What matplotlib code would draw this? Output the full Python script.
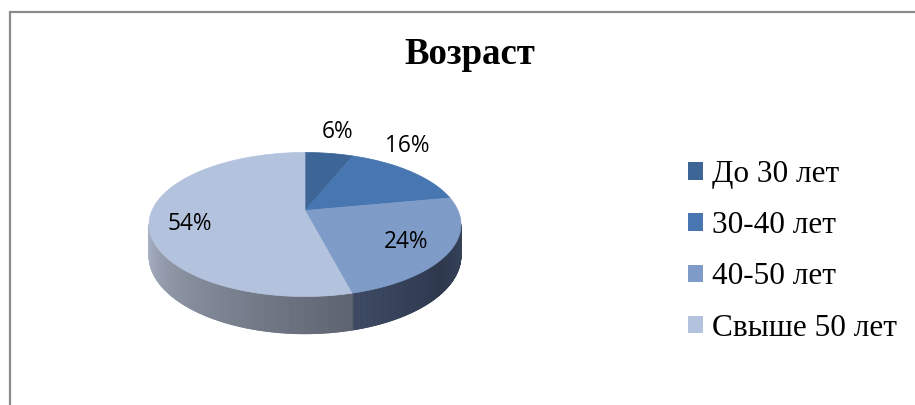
import numpy as np
import matplotlib
matplotlib.use('Agg')
import matplotlib.pyplot as plt
from matplotlib.patches import Polygon, Patch
from matplotlib.collections import PolyCollection

# ---------------- data ----------------
title = "Возраст"
categories = ["До 30 лет", "30-40 лет", "40-50 лет", "Свыше 50 лет"]
values = [6, 16, 24, 54]
pct_labels = ["6%", "16%", "24%", "54%"]

# ---------------- style ----------------
top_colors = ["#3D6596", "#4776B0", "#7F9CC9", "#B4C3DD"]
# side gradient stops (start of visible part -> end), per slice
side_grad = {
    2: [(0.0, (56, 68, 90)), (0.45, (46, 57, 78)), (1.0, (60, 73, 98))],
    3: [(0.0, (92, 98, 110)), (0.6, (135, 142, 158)), (1.0, (168, 177, 195))],
}
label_xy = [(338, 132.5), (407, 145.5), (406.5, 242.5), (190, 224.5)]

W, H = 915, 405
fig = plt.figure(figsize=(W / 100, H / 100), dpi=100)
ax = fig.add_axes([0, 0, 1, 1])
ax.set_xlim(0, W)
ax.set_ylim(H, 0)
ax.axis('off')

# chart frame (top and left edges visible)
ax.plot([10, 10, W + 5], [H + 5, 12, 12], color='#8A8A8A', lw=1.6,
        solid_joinstyle='miter', zorder=1)

# perspective pie geometry
CX, CY = 305, 210.5
A, B, P = 153.0, 69.3, 0.1944
HD = 30.0


def proj(theta, r=1.0):
    X = r * np.sin(theta)
    Z = r * np.cos(theta)
    d = 1 + P * Z
    return CX + A * X / d, CY - B * Z / d


def depth(theta):
    return HD / (1 + P * np.cos(theta))


vals = np.array(values, dtype=float)
bounds = np.concatenate([[0], np.cumsum(vals) / vals.sum()]) * 2 * np.pi


def grad_color(stops, t):
    for (t0, c0), (t1, c1) in zip(stops[:-1], stops[1:]):
        if t0 <= t <= t1:
            u = (t - t0) / (t1 - t0) if t1 > t0 else 0
            return tuple((c0[k] + u * (c1[k] - c0[k])) / 255 for k in range(3))
    return tuple(c / 255 for c in stops[-1][1])


# side faces (visible between silhouette points)
t_lo = np.arccos(-P)
t_hi = 2 * np.pi - t_lo
N = 400
ts = np.linspace(t_lo, t_hi, N + 1)
quads, cols = [], []
for i in range(N):
    a0, a1 = ts[i], ts[i + 1]
    mid = 0.5 * (a0 + a1)
    k = int(np.searchsorted(bounds, mid) - 1)
    s0 = max(bounds[k], t_lo)
    s1 = min(bounds[k + 1], t_hi)
    t = (mid - s0) / (s1 - s0)
    x0, y0 = proj(a0)
    x1, y1 = proj(a1)
    quads.append([(x0, y0), (x1, y1), (x1, y1 + depth(a1)), (x0, y0 + depth(a0))])
    cols.append(grad_color(side_grad.get(k, [(0, (60, 60, 60)), (1, (60, 60, 60))]), t))
pc = PolyCollection(quads, facecolors=cols, edgecolors=cols, linewidths=0.6, zorder=2)
ax.add_collection(pc)

# top faces
handles = []
for k in range(len(values)):
    th = np.linspace(bounds[k], bounds[k + 1], 200)
    xs, ys = proj(th)
    pts = np.column_stack([np.concatenate([[CX], xs]), np.concatenate([[CY], ys])])
    poly = Polygon(pts, closed=True, facecolor=top_colors[k], edgecolor=top_colors[k],
                   lw=0.5, zorder=3)
    ax.add_patch(poly)
    handles.append(Patch(facecolor=top_colors[k], edgecolor='none'))

# percentage labels
for (x, y), s in zip(label_xy, pct_labels):
    ax.text(x, y, s, ha='center', va='center', fontsize=16.3,
            family='Open Sans', color='black', zorder=5)

# title
ax.text(469.5, 63.5, title, ha='center', va='baseline', fontsize=26.5,
        family='Liberation Serif', fontweight='bold', color='black')

# legend
ax.legend(handles, categories, loc='upper left', bbox_to_anchor=(688, 160),
          bbox_transform=ax.transData, frameon=False, borderpad=0,
          borderaxespad=0, handlelength=0.48, handleheight=0.48,
          handletextpad=0.29, labelspacing=0.71,
          prop={'family': 'Liberation Serif', 'size': 22.5})

fig.savefig('out.png', dpi=100, facecolor='white')
